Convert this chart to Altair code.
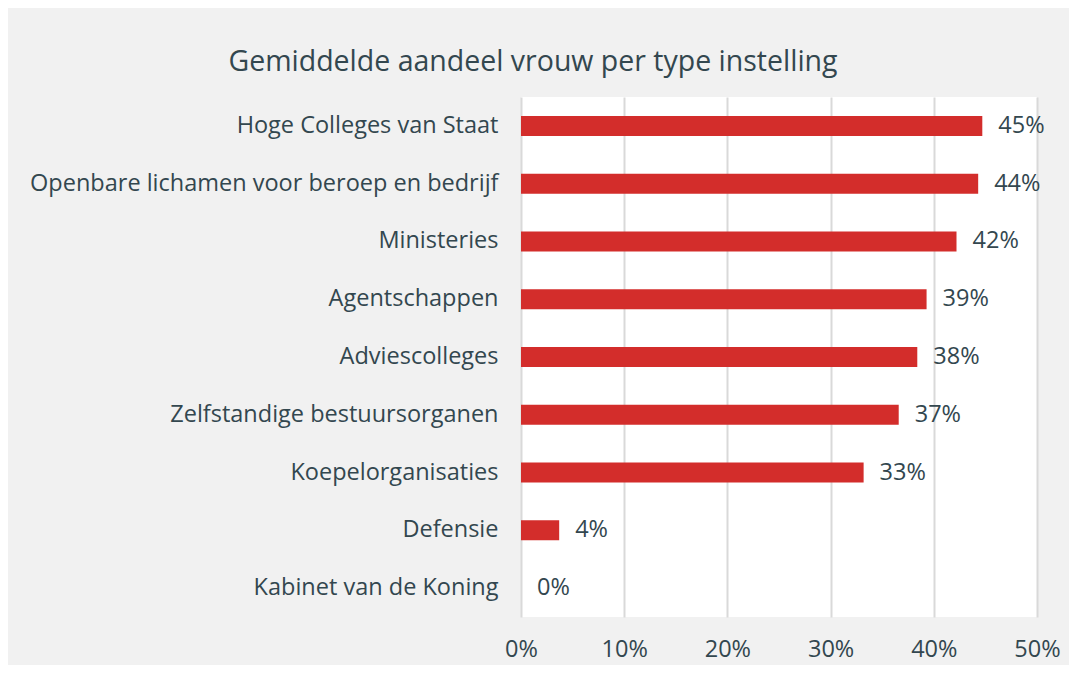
import altair as alt
import pandas as pd

categories = [
    "Hoge Colleges van Staat",
    "Openbare lichamen voor beroep en bedrijf",
    "Ministeries",
    "Agentschappen",
    "Adviescolleges",
    "Zelfstandige bestuursorganen",
    "Koepelorganisaties",
    "Defensie",
    "Kabinet van de Koning",
]
values = [0.447, 0.443, 0.422, 0.393, 0.384, 0.366, 0.332, 0.037, 0.0]

df = pd.DataFrame({"cat": categories, "val": values})

FONT = "Open Sans"
TXT = "#33474f"
FS = 23.5

base = alt.Chart(df).encode(
    y=alt.Y("cat:N", sort=categories, title=None,
            scale=alt.Scale(paddingInner=0.654, paddingOuter=0.327),
            axis=alt.Axis(labelFontSize=FS, labelColor=TXT, labelFont=FONT,
                          labelPadding=23, ticks=False, domain=False, grid=False,
                          labelLimit=600)),
    x=alt.X("val:Q", title=None,
            scale=alt.Scale(domain=[0, 0.5], nice=False),
            axis=alt.Axis(format=".0%", values=[0, 0.1, 0.2, 0.3, 0.4, 0.5],
                          labelFontSize=FS, labelColor=TXT, labelFont=FONT,
                          labelPadding=20, labelFlush=False, ticks=False,
                          domain=False, grid=True, gridColor="#d9d9d9",
                          gridWidth=2)),
)

bars = base.mark_bar(color="#d32d2b")
labels = base.mark_text(align="left", baseline="middle", dx=16,
                        fontSize=FS, font=FONT, color=TXT).encode(
    text=alt.Text("val:Q", format=".0%"))

chart = (bars + labels).properties(
    width=516, height=520,
    padding={"left": 513, "top": 89, "right": 32, "bottom": 48},
    autosize=alt.AutoSizeParams(type="none"),
    background="#f1f1f1",
    title=alt.TitleParams("Gemiddelde aandeel vrouw per type instelling",
                          fontSize=28.5, font=FONT, fontWeight="normal",
                          color=TXT, anchor="middle", dx=-246, offset=21),
).configure_view(fill="white", stroke=None)

chart.save("out.html", embed_options={"renderer": "svg", "actions": False})
